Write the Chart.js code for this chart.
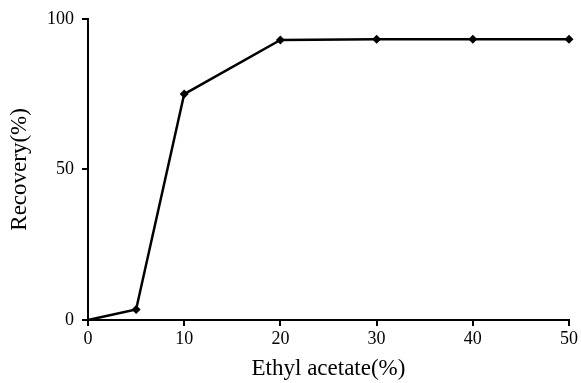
<!DOCTYPE html>
<html>
<head>
<meta charset="utf-8">
<script src="https://cdn.jsdelivr.net/npm/chart.js@4"></script>
<style>
html, body { margin: 0; padding: 0; background: #fff; }
#wrap { width: 581px; height: 383px; position: relative; }
</style>
</head>
<body>
<div id="wrap"><canvas id="recoveryChart"></canvas></div>
<script>
// data
const ethylAcetate = [0, 5, 10, 20, 30, 40, 50];
const recovery = [0, 3.5, 75, 93, 93.2, 93.2, 93.2];
const xTicks = [0, 10, 20, 30, 40, 50];
const yTicks = [0, 50, 100];

const serif = 'Liberation Serif, Times New Roman, serif';

const ctx = document.getElementById('recoveryChart').getContext('2d');
const chart = new Chart(ctx, {
  type: 'line',
  data: {
    datasets: [{
      label: 'Recovery',
      data: ethylAcetate.map((x, i) => ({ x: x, y: recovery[i] })),
      borderColor: '#000',
      backgroundColor: '#000',
      borderWidth: 2.5,
      pointStyle: 'rectRot',
      pointRadius: ctx => ctx.dataIndex === 0 ? 0 : 4.5,
      pointBorderWidth: 0,
      tension: 0,
      clip: false
    }]
  },
  options: {
    responsive: true,
    maintainAspectRatio: false,
    animation: false,
    layout: { padding: { top: 14, right: 12, left: 0, bottom: 0 } },
    plugins: {
      legend: { display: false },
      tooltip: { enabled: false }
    },
    scales: {
      x: {
        type: 'linear',
        min: 0,
        max: 50,
        afterBuildTicks: axis => { axis.ticks = xTicks.map(v => ({ value: v })); },
        afterFit: axis => { axis.height = 63; },
        border: { color: '#000', width: 2 },
        grid: { drawOnChartArea: false, color: '#000', lineWidth: 2, tickLength: 6 },
        ticks: { color: '#000', font: { family: serif, size: 18 }, padding: 2, maxRotation: 0 },
        title: {
          display: true,
          text: 'Ethyl acetate(%)',
          color: '#000',
          font: { family: serif, size: 23 },
          padding: { top: 0, bottom: 0 }
        }
      },
      y: {
        min: 0,
        max: 100,
        afterBuildTicks: axis => { axis.ticks = yTicks.map(v => ({ value: v })); },
        afterFit: axis => { axis.width = 88; },
        border: { color: '#000', width: 2 },
        grid: { drawOnChartArea: false, color: '#000', lineWidth: 2, tickLength: 6 },
        ticks: { color: '#000', font: { family: serif, size: 18 }, padding: 8 },
        title: {
          display: true,
          text: 'Recovery(%)',
          color: '#000',
          font: { family: serif, size: 23 },
          padding: { top: 6, bottom: 4 }
        }
      }
    }
  }
});
</script>
</body>
</html>
